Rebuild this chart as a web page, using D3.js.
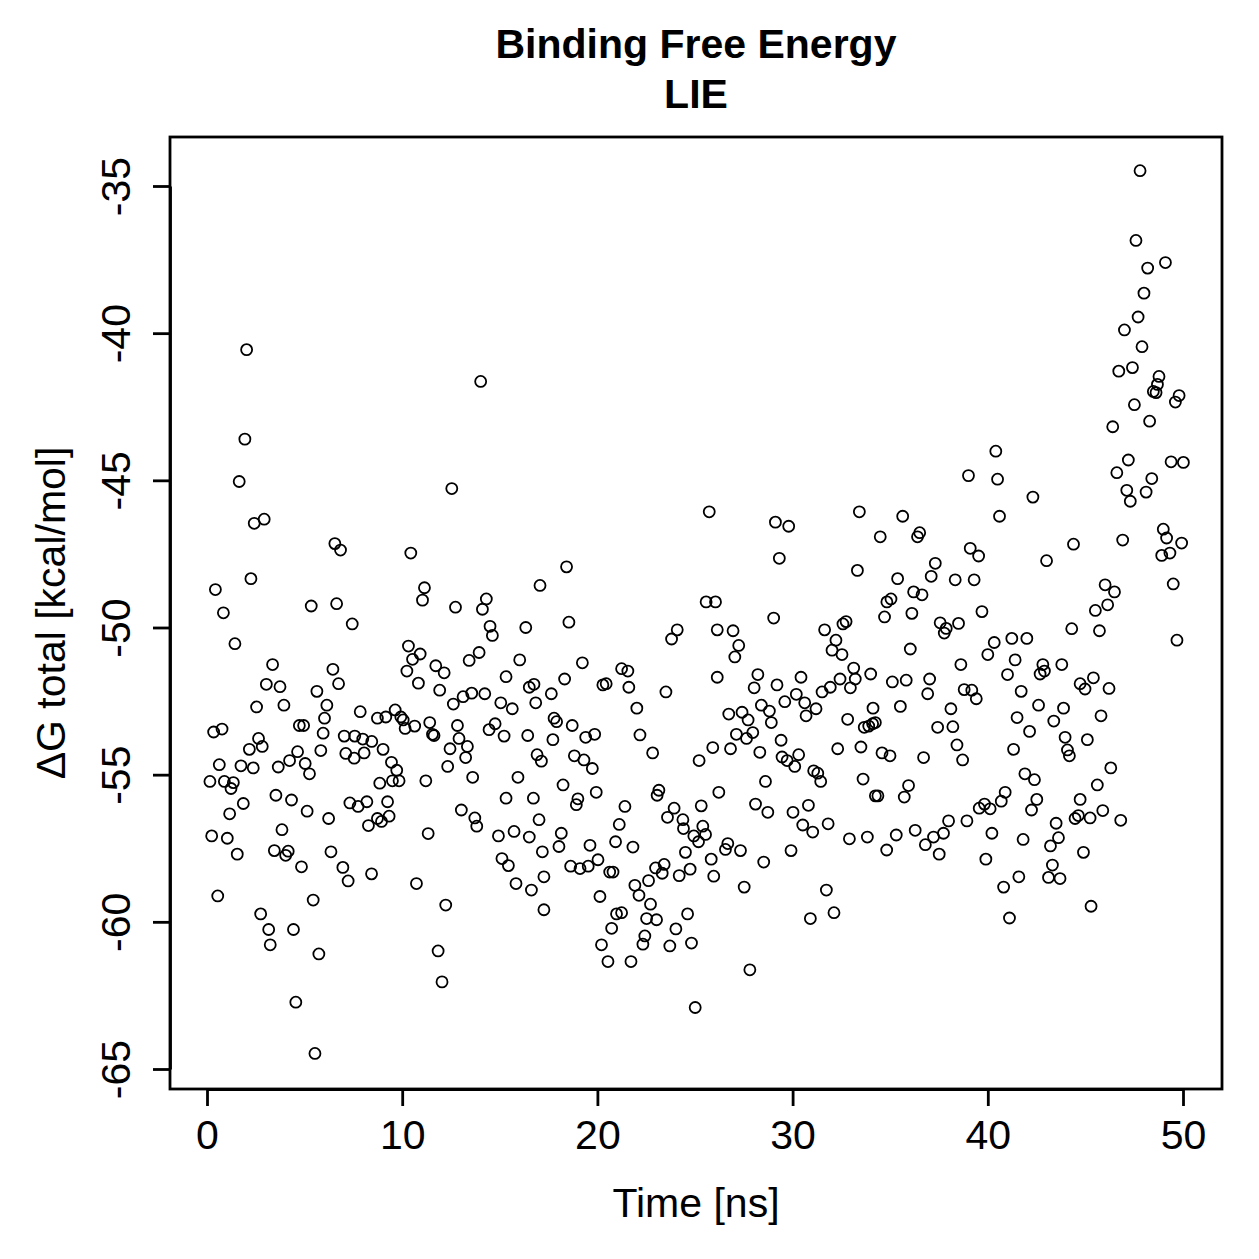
<!DOCTYPE html>
<html>
<head>
<meta charset="utf-8">
<script src="https://cdn.jsdelivr.net/npm/d3@7/dist/d3.min.js"></script>
<style>
  html, body { margin: 0; padding: 0; background: #fff; }
  svg { display: block; }
  text { font-family: "Liberation Sans", Arial, Helvetica, sans-serif; fill: #000; }
</style>
</head>
<body>
<svg id="chart" width="1259" height="1259"></svg>
<script>
// ---- Data: [time (ns), dG total (kcal/mol)] ----
const pts0to8 = [[2.03,-40.56],[1.94,-43.60],[1.65,-45.04],[2.42,-46.46],[2.93,-46.32],[6.55,-47.15],[6.84,-47.37],[0.43,-48.71],[2.25,-48.34],[0.84,-49.50],[5.34,-49.27],[6.64,-49.19],[7.44,-49.88],[1.43,-50.55],[3.36,-51.26],[6.45,-51.42],[3.04,-51.93],[3.74,-52.01],[6.74,-51.91],[5.63,-52.17],[2.54,-52.70],[3.94,-52.64],[6.14,-52.64],[7.85,-52.86],[6.02,-53.08],[0.34,-53.55],[0.77,-53.45],[4.73,-53.33],[4.95,-53.33],[5.95,-53.59],[7.03,-53.69],[7.57,-53.69],[7.98,-53.79],[2.64,-53.77],[2.83,-54.04],[2.17,-54.14],[4.64,-54.22],[5.83,-54.18],[7.11,-54.28],[7.54,-54.44],[8.05,-54.26],[0.63,-54.66],[1.74,-54.70],[2.37,-54.77],[3.65,-54.74],[4.23,-54.52],[5.03,-54.62],[5.25,-54.97],[0.15,-55.23],[0.89,-55.23],[1.35,-55.27],[1.23,-55.47],[3.53,-55.70],[4.33,-55.86],[1.86,-55.98],[5.13,-56.24],[7.32,-55.96],[7.74,-56.08],[8.19,-55.92],[1.16,-56.33],[6.23,-56.49],[8.27,-56.73],[3.84,-56.87],[0.24,-57.08],[1.04,-57.16],[1.55,-57.70],[3.45,-57.58],[4.16,-57.60],[4.03,-57.74],[6.35,-57.62],[4.84,-58.13],[6.96,-58.15],[7.23,-58.61],[8.43,-58.37],[0.55,-59.12],[5.44,-59.26],[2.75,-59.73],[3.16,-60.26],[4.43,-60.26],[3.24,-60.78],[5.73,-61.09],[4.55,-62.73],[5.53,-64.47]];
const pts8to17 = [[14.02,-41.64],[12.54,-45.28],[10.44,-47.47],[11.14,-48.65],[11.04,-49.07],[12.73,-49.31],[14.31,-49.03],[14.11,-49.38],[17.06,-48.57],[14.50,-49.96],[14.62,-50.27],[16.33,-50.00],[10.32,-50.63],[10.92,-50.90],[10.53,-51.08],[10.24,-51.48],[10.83,-51.89],[11.72,-51.30],[12.15,-51.54],[13.43,-51.12],[13.94,-50.85],[16.02,-51.10],[15.32,-51.67],[16.51,-52.03],[16.75,-51.93],[11.92,-52.13],[12.62,-52.60],[13.12,-52.35],[13.56,-52.23],[14.23,-52.25],[15.05,-52.56],[15.64,-52.76],[16.84,-52.56],[8.73,-53.08],[9.16,-53.04],[9.64,-52.80],[9.93,-53.04],[10.05,-53.14],[10.15,-53.43],[10.64,-53.35],[11.41,-53.23],[11.55,-53.63],[11.63,-53.67],[12.83,-53.33],[12.91,-53.77],[14.45,-53.47],[14.76,-53.27],[15.22,-53.69],[16.43,-53.67],[8.44,-53.87],[9.02,-54.14],[9.45,-54.58],[9.72,-54.85],[9.50,-55.21],[9.84,-55.21],[8.85,-55.29],[11.21,-55.21],[12.45,-54.12],[12.33,-54.72],[13.25,-54.42],[13.34,-54.04],[13.61,-55.09],[15.93,-55.09],[16.91,-54.32],[17.13,-54.54],[9.25,-55.92],[9.33,-56.41],[8.73,-56.49],[8.94,-56.59],[11.33,-57.00],[13.03,-56.20],[13.72,-56.47],[13.82,-56.75],[15.32,-55.80],[16.72,-55.80],[17.01,-56.53],[14.93,-57.08],[15.73,-56.93],[16.51,-57.12],[15.11,-57.85],[15.44,-58.09],[15.83,-58.70],[16.62,-58.92],[17.18,-57.62],[17.26,-58.47],[17.26,-59.59],[10.73,-58.70],[12.23,-59.43],[11.84,-60.99],[12.04,-62.04]];
const pts17to26 = [[25.73,-46.07],[18.42,-47.94],[18.54,-49.82],[25.57,-49.13],[26.05,-49.13],[26.14,-50.08],[24.09,-50.08],[23.80,-50.39],[19.23,-51.20],[18.32,-51.75],[17.64,-52.25],[20.28,-51.95],[20.45,-51.91],[21.24,-51.40],[21.56,-51.48],[21.61,-52.03],[23.51,-52.19],[26.14,-51.69],[22.02,-52.74],[17.78,-53.08],[17.91,-53.20],[18.71,-53.33],[17.72,-53.81],[19.40,-53.73],[19.86,-53.63],[22.18,-53.65],[18.82,-54.36],[19.31,-54.50],[19.74,-54.79],[22.83,-54.26],[25.21,-54.52],[25.91,-54.08],[18.24,-55.35],[19.00,-55.82],[18.92,-56.02],[19.94,-55.60],[21.41,-56.08],[21.12,-56.69],[23.15,-55.53],[23.06,-55.70],[23.93,-56.14],[23.59,-56.45],[24.38,-56.53],[24.41,-56.83],[25.32,-56.06],[25.40,-56.75],[24.94,-57.08],[25.18,-57.28],[25.54,-57.03],[26.22,-55.60],[18.15,-56.99],[18.03,-57.44],[19.62,-57.40],[20.93,-57.28],[21.82,-57.46],[20.03,-57.89],[18.63,-58.11],[19.11,-58.19],[19.53,-58.11],[20.63,-58.31],[20.80,-58.31],[22.98,-58.17],[23.42,-58.05],[23.32,-58.35],[24.51,-57.64],[24.75,-58.21],[24.19,-58.43],[25.83,-57.87],[25.96,-58.45],[21.92,-58.76],[22.13,-59.10],[22.62,-58.60],[22.72,-59.40],[20.13,-59.14],[20.98,-59.73],[21.24,-59.69],[22.52,-59.89],[23.03,-59.93],[20.73,-60.22],[24.62,-59.73],[24.02,-60.24],[22.43,-60.48],[22.33,-60.76],[20.21,-60.78],[23.71,-60.82],[24.82,-60.72],[20.54,-61.35],[21.72,-61.35],[25.01,-62.91]];
const pts26to35 = [[29.12,-46.42],[29.80,-46.56],[33.42,-46.07],[29.32,-47.65],[34.49,-46.92],[33.32,-48.06],[29.03,-49.68],[26.95,-50.11],[27.24,-50.61],[27.04,-51.00],[31.64,-50.08],[32.22,-50.43],[32.02,-50.77],[32.53,-50.92],[32.58,-49.88],[32.74,-49.80],[34.71,-49.64],[34.83,-49.13],[35.04,-49.03],[28.22,-51.60],[28.03,-52.05],[29.20,-51.95],[30.43,-51.69],[30.19,-52.27],[29.60,-52.52],[30.62,-52.56],[28.40,-52.64],[28.81,-52.84],[26.73,-52.94],[27.41,-52.88],[27.72,-53.14],[28.91,-53.23],[31.20,-52.76],[31.51,-52.19],[31.93,-52.03],[32.43,-51.75],[32.96,-52.05],[33.13,-51.38],[33.21,-51.75],[34.00,-51.58],[34.12,-52.74],[35.11,-51.85],[30.69,-53.00],[32.82,-53.12],[33.67,-53.39],[33.90,-53.35],[34.10,-53.27],[34.24,-53.23],[27.12,-53.63],[27.64,-53.77],[27.96,-53.57],[26.82,-54.12],[28.32,-54.24],[29.41,-53.83],[29.46,-54.40],[29.72,-54.52],[30.11,-54.72],[30.31,-54.32],[32.31,-54.12],[33.50,-54.06],[34.58,-54.26],[34.99,-54.36],[31.08,-54.87],[31.29,-54.95],[31.44,-55.23],[28.61,-55.23],[33.61,-55.15],[34.24,-55.72],[34.37,-55.72],[28.10,-56.00],[28.73,-56.28],[30.02,-56.28],[30.81,-56.04],[30.52,-56.71],[31.03,-56.95],[31.82,-56.67],[26.56,-57.54],[26.68,-57.34],[27.33,-57.58],[28.52,-57.97],[29.92,-57.58],[32.91,-57.18],[33.83,-57.12],[34.82,-57.56],[27.52,-58.82],[31.73,-58.92],[30.91,-59.89],[32.12,-59.69],[27.81,-61.63]];
const pts35to44 = [[40.41,-44.01],[39.01,-44.84],[40.50,-44.96],[42.31,-45.57],[35.64,-46.22],[40.60,-46.22],[36.40,-46.92],[36.51,-46.78],[39.10,-47.31],[39.53,-47.57],[37.31,-47.82],[37.10,-48.26],[38.33,-48.38],[39.30,-48.38],[35.38,-48.34],[43.01,-47.73],[36.20,-48.79],[36.63,-48.89],[36.11,-49.52],[37.56,-49.84],[37.87,-50.03],[37.77,-50.19],[38.50,-49.86],[39.70,-49.46],[36.03,-50.73],[40.33,-50.51],[40.00,-50.92],[41.23,-50.37],[42.00,-50.37],[38.62,-51.26],[41.40,-51.10],[41.01,-51.60],[42.82,-51.26],[42.90,-51.48],[42.68,-51.58],[43.79,-51.26],[35.82,-51.79],[37.02,-51.75],[36.92,-52.25],[35.52,-52.68],[38.79,-52.11],[39.18,-52.13],[39.41,-52.42],[41.71,-52.17],[42.60,-52.64],[43.88,-52.74],[38.11,-52.76],[37.43,-53.39],[38.21,-53.37],[38.42,-53.99],[38.71,-54.50],[36.71,-54.42],[41.50,-53.06],[42.14,-53.53],[43.38,-53.18],[41.32,-54.14],[43.96,-53.73],[35.94,-55.37],[35.72,-55.76],[41.90,-54.97],[42.39,-55.17],[42.51,-55.84],[42.24,-56.20],[40.89,-55.60],[40.69,-55.90],[39.56,-56.14],[39.83,-56.00],[40.12,-56.16],[38.93,-56.57],[37.99,-56.57],[37.73,-56.99],[37.22,-57.12],[37.51,-57.70],[36.80,-57.38],[36.28,-56.89],[35.31,-57.05],[40.21,-56.99],[39.90,-57.87],[41.81,-57.20],[43.50,-56.65],[43.62,-57.14],[43.21,-57.42],[43.31,-58.07],[43.11,-58.49],[43.70,-58.53],[41.59,-58.47],[40.81,-58.82],[41.11,-59.87]];
const pts44to50 = [[47.80,-34.48],[47.59,-36.85],[48.19,-37.79],[49.10,-37.60],[48.00,-38.64],[47.70,-39.45],[47.00,-39.89],[47.90,-40.46],[46.71,-41.29],[47.41,-41.17],[48.77,-41.47],[48.69,-41.74],[48.48,-41.98],[48.62,-42.02],[49.80,-42.12],[49.61,-42.34],[47.51,-42.43],[48.29,-42.99],[46.40,-43.18],[47.20,-44.31],[46.61,-44.74],[48.40,-44.94],[49.39,-44.37],[50.02,-44.39],[47.12,-45.34],[48.11,-45.40],[47.30,-45.71],[44.39,-47.17],[46.91,-47.03],[48.99,-46.66],[49.16,-46.96],[49.93,-47.13],[48.91,-47.55],[49.33,-47.47],[49.50,-48.52],[46.01,-48.55],[46.49,-48.79],[46.14,-49.23],[45.51,-49.42],[44.30,-50.04],[45.72,-50.11],[49.69,-50.43],[44.73,-51.91],[44.98,-52.09],[45.41,-51.71],[46.21,-52.07],[45.80,-53.00],[45.10,-53.81],[44.08,-54.16],[44.18,-54.36],[46.30,-54.77],[45.61,-55.35],[44.73,-55.84],[44.47,-56.49],[44.64,-56.39],[45.24,-56.47],[45.89,-56.22],[46.81,-56.55],[44.90,-57.64],[45.29,-59.47]];

const xTicks = [0, 10, 20, 30, 40, 50];
const yTicks = [-35, -40, -45, -50, -55, -60, -65];
const titleLines = ["Binding Free Energy", "LIE"];
const xLabel = "Time [ns]";
const yLabel = "\u0394G total [kcal/mol]";

const points = [].concat(pts0to8, pts8to17, pts17to26, pts26to35, pts35to44, pts44to50);

// ---- Layout ----
const svg = d3.select("#chart");
svg.append("rect").attr("width", 1259).attr("height", 1259).attr("fill", "#fff");

const box = { left: 170, right: 1222, top: 137, bottom: 1089 };
const x = d3.scaleLinear().domain([0, 50]).range([207, 1183]);
const y = d3.scaleLinear().domain([-35, -65]).range([186, 1069]);
const FS = 41;
const LW = 2.8;

// points
svg.append("g")
  .selectAll("circle")
  .data(points)
  .join("circle")
  .attr("cx", d => x(d[0]))
  .attr("cy", d => y(d[1]))
  .attr("r", 5.5)
  .attr("fill", "none")
  .attr("stroke", "#000")
  .attr("stroke-width", 1.8);

// box
svg.append("rect")
  .attr("x", box.left).attr("y", box.top)
  .attr("width", box.right - box.left).attr("height", box.bottom - box.top)
  .attr("fill", "none").attr("stroke", "#000").attr("stroke-width", LW);

// x axis
const gx = svg.append("g")
  .attr("transform", `translate(0,${box.bottom})`)
  .call(d3.axisBottom(x).tickValues(xTicks).tickFormat(d3.format("d")).tickSize(17).tickSizeOuter(0));
gx.select(".domain").attr("stroke-width", LW);
gx.selectAll(".tick line").attr("stroke-width", LW);
gx.selectAll(".tick text")
  .attr("y", 60).attr("dy", 0)
  .style("font-size", FS + "px")
  .style("font-family", '"Liberation Sans", Arial, sans-serif');

// y axis
const gy = svg.append("g")
  .attr("transform", `translate(${box.left},0)`)
  .call(d3.axisLeft(y).tickValues(yTicks).tickFormat(d => d3.format("d")(d).replace("\u2212", "-")).tickSize(17).tickSizeOuter(0));
gy.select(".domain").attr("stroke-width", LW);
gy.selectAll(".tick line").attr("stroke-width", LW);
gy.selectAll(".tick text")
  .attr("x", 0).attr("y", 0).attr("dy", 0)
  .attr("text-anchor", "middle")
  .attr("transform", "translate(-40,0) rotate(-90)")
  .style("font-size", FS + "px")
  .style("font-family", '"Liberation Sans", Arial, sans-serif');

// title
const cx = (box.left + box.right) / 2;
svg.append("text").attr("x", cx).attr("y", 58).attr("text-anchor", "middle")
  .style("font-size", FS + "px").style("font-weight", "bold").text(titleLines[0]);
svg.append("text").attr("x", cx).attr("y", 108).attr("text-anchor", "middle")
  .style("font-size", FS + "px").style("font-weight", "bold").text(titleLines[1]);

// axis titles
svg.append("text").attr("x", cx).attr("y", 1217).attr("text-anchor", "middle")
  .style("font-size", FS + "px").text(xLabel);
const cy = (box.top + box.bottom) / 2;
svg.append("text").attr("text-anchor", "middle")
  .attr("transform", `translate(65,${cy}) rotate(-90)`)
  .style("font-size", FS + "px").text(yLabel);
</script>
</body>
</html>
